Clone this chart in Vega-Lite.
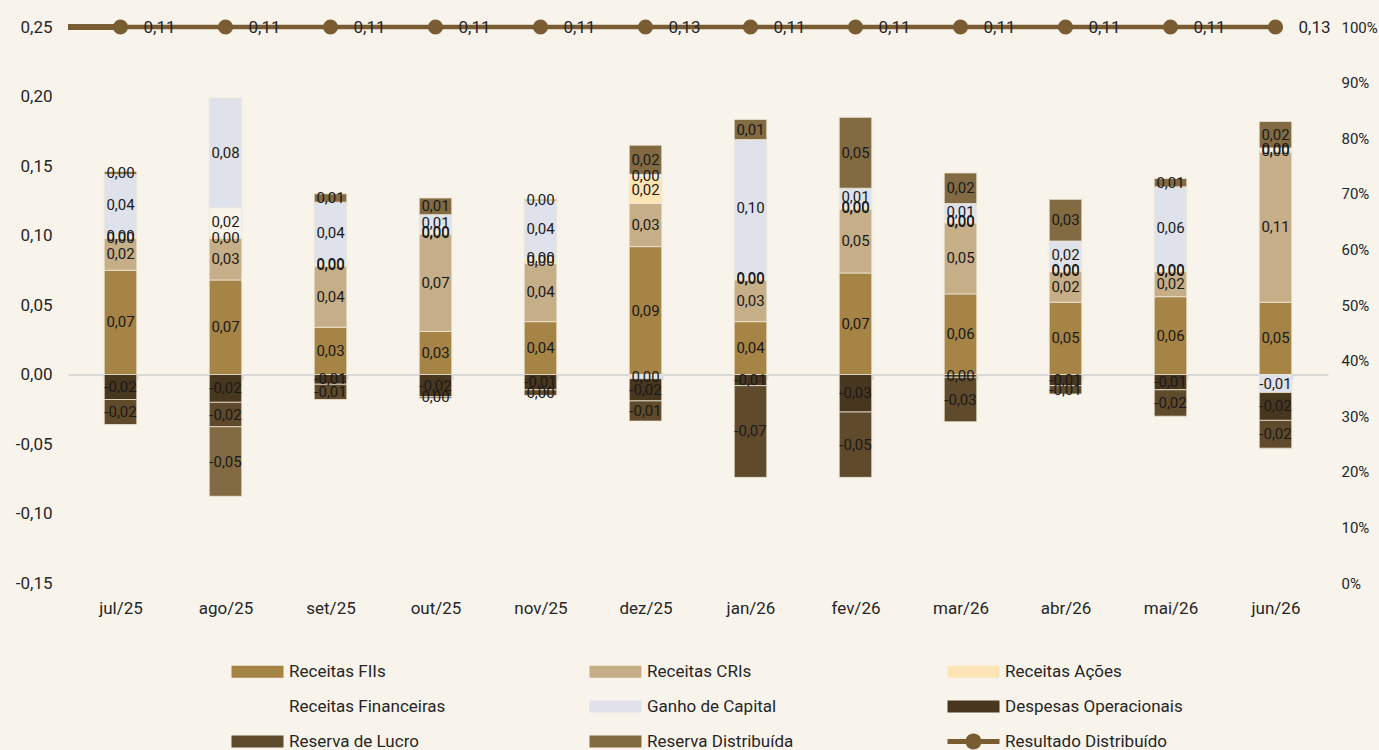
{
  "$schema": "https://vega.github.io/schema/vega-lite/v6.json",
  "width": 1260,
  "height": 556,
  "autosize": "none",
  "padding": {"left": 68, "top": 27, "right": 51, "bottom": 167},
  "background": "#f8f4ec",
  "config": {
    "view": {"stroke": null},
    "font": "Roboto",
    "locale": {"number": {"decimal": ",", "thousands": ".", "grouping": [3], "currency": ["R$ ", ""], "minus": "-"}},
    "axis": {"labelFont": "Roboto", "labelFontSize": 17, "labelColor": "#262626", "grid": false, "title": null}
  },
  "datasets": {
    "barras": [
      {"mes": "jul/25", "serie": "Receitas FIIs", "ord": 1, "valor": 0.075},
      {"mes": "jul/25", "serie": "Receitas CRIs", "ord": 2, "valor": 0.023},
      {"mes": "jul/25", "serie": "Receitas Ações", "ord": 3, "valor": 0.001},
      {"mes": "jul/25", "serie": "Receitas Financeiras", "ord": 4, "valor": 0.001},
      {"mes": "jul/25", "serie": "Ganho de Capital", "ord": 5, "valor": 0.044},
      {"mes": "jul/25", "serie": "Despesas Operacionais", "ord": 6, "valor": -0.018},
      {"mes": "jul/25", "serie": "Reserva de Lucro", "ord": 7, "valor": -0.018},
      {"mes": "jul/25", "serie": "Reserva Distribuída", "ord": 8, "valor": 0.002},
      {"mes": "ago/25", "serie": "Receitas FIIs", "ord": 1, "valor": 0.068},
      {"mes": "ago/25", "serie": "Receitas CRIs", "ord": 2, "valor": 0.030},
      {"mes": "ago/25", "serie": "Receitas Ações", "ord": 3, "valor": 0.001},
      {"mes": "ago/25", "serie": "Receitas Financeiras", "ord": 4, "valor": 0.021},
      {"mes": "ago/25", "serie": "Ganho de Capital", "ord": 5, "valor": 0.079},
      {"mes": "ago/25", "serie": "Despesas Operacionais", "ord": 6, "valor": -0.020},
      {"mes": "ago/25", "serie": "Reserva de Lucro", "ord": 7, "valor": -0.0176},
      {"mes": "ago/25", "serie": "Reserva Distribuída", "ord": 8, "valor": -0.050},
      {"mes": "set/25", "serie": "Receitas FIIs", "ord": 1, "valor": 0.034},
      {"mes": "set/25", "serie": "Receitas CRIs", "ord": 2, "valor": 0.044},
      {"mes": "set/25", "serie": "Receitas Ações", "ord": 3, "valor": 0.001},
      {"mes": "set/25", "serie": "Receitas Financeiras", "ord": 4, "valor": 0.001},
      {"mes": "set/25", "serie": "Ganho de Capital", "ord": 5, "valor": 0.044},
      {"mes": "set/25", "serie": "Despesas Operacionais", "ord": 6, "valor": -0.007},
      {"mes": "set/25", "serie": "Reserva de Lucro", "ord": 7, "valor": -0.011},
      {"mes": "set/25", "serie": "Reserva Distribuída", "ord": 8, "valor": 0.006},
      {"mes": "out/25", "serie": "Receitas FIIs", "ord": 1, "valor": 0.031},
      {"mes": "out/25", "serie": "Receitas CRIs", "ord": 2, "valor": 0.070},
      {"mes": "out/25", "serie": "Receitas Ações", "ord": 3, "valor": 0.001},
      {"mes": "out/25", "serie": "Receitas Financeiras", "ord": 4, "valor": 0.001},
      {"mes": "out/25", "serie": "Ganho de Capital", "ord": 5, "valor": 0.012},
      {"mes": "out/25", "serie": "Despesas Operacionais", "ord": 6, "valor": -0.016},
      {"mes": "out/25", "serie": "Reserva de Lucro", "ord": 7, "valor": -0.001},
      {"mes": "out/25", "serie": "Reserva Distribuída", "ord": 8, "valor": 0.012},
      {"mes": "nov/25", "serie": "Receitas FIIs", "ord": 1, "valor": 0.038},
      {"mes": "nov/25", "serie": "Receitas CRIs", "ord": 2, "valor": 0.042},
      {"mes": "nov/25", "serie": "Receitas Ações", "ord": 3, "valor": 0.003},
      {"mes": "nov/25", "serie": "Receitas Financeiras", "ord": 4, "valor": 0.001},
      {"mes": "nov/25", "serie": "Ganho de Capital", "ord": 5, "valor": 0.041},
      {"mes": "nov/25", "serie": "Despesas Operacionais", "ord": 6, "valor": -0.011},
      {"mes": "nov/25", "serie": "Reserva de Lucro", "ord": 7, "valor": -0.004},
      {"mes": "nov/25", "serie": "Reserva Distribuída", "ord": 8, "valor": 0.001},
      {"mes": "dez/25", "serie": "Receitas FIIs", "ord": 1, "valor": 0.092},
      {"mes": "dez/25", "serie": "Receitas CRIs", "ord": 2, "valor": 0.031},
      {"mes": "dez/25", "serie": "Receitas Ações", "ord": 3, "valor": 0.019},
      {"mes": "dez/25", "serie": "Receitas Financeiras", "ord": 4, "valor": 0.002},
      {"mes": "dez/25", "serie": "Ganho de Capital", "ord": 5, "valor": -0.003},
      {"mes": "dez/25", "serie": "Despesas Operacionais", "ord": 6, "valor": -0.016},
      {"mes": "dez/25", "serie": "Reserva de Lucro", "ord": 7, "valor": -0.0145},
      {"mes": "dez/25", "serie": "Reserva Distribuída", "ord": 8, "valor": 0.021},
      {"mes": "jan/26", "serie": "Receitas FIIs", "ord": 1, "valor": 0.038},
      {"mes": "jan/26", "serie": "Receitas CRIs", "ord": 2, "valor": 0.030},
      {"mes": "jan/26", "serie": "Receitas Ações", "ord": 3, "valor": 0.001},
      {"mes": "jan/26", "serie": "Receitas Financeiras", "ord": 4, "valor": 0.001},
      {"mes": "jan/26", "serie": "Ganho de Capital", "ord": 5, "valor": 0.099},
      {"mes": "jan/26", "serie": "Despesas Operacionais", "ord": 6, "valor": -0.008},
      {"mes": "jan/26", "serie": "Reserva de Lucro", "ord": 7, "valor": -0.066},
      {"mes": "jan/26", "serie": "Reserva Distribuída", "ord": 8, "valor": 0.0145},
      {"mes": "fev/26", "serie": "Receitas FIIs", "ord": 1, "valor": 0.073},
      {"mes": "fev/26", "serie": "Receitas CRIs", "ord": 2, "valor": 0.046},
      {"mes": "fev/26", "serie": "Receitas Ações", "ord": 3, "valor": 0.001},
      {"mes": "fev/26", "serie": "Receitas Financeiras", "ord": 4, "valor": 0.001},
      {"mes": "fev/26", "serie": "Ganho de Capital", "ord": 5, "valor": 0.013},
      {"mes": "fev/26", "serie": "Despesas Operacionais", "ord": 6, "valor": -0.027},
      {"mes": "fev/26", "serie": "Reserva de Lucro", "ord": 7, "valor": -0.047},
      {"mes": "fev/26", "serie": "Reserva Distribuída", "ord": 8, "valor": 0.051},
      {"mes": "mar/26", "serie": "Receitas FIIs", "ord": 1, "valor": 0.058},
      {"mes": "mar/26", "serie": "Receitas CRIs", "ord": 2, "valor": 0.051},
      {"mes": "mar/26", "serie": "Receitas Ações", "ord": 3, "valor": 0.001},
      {"mes": "mar/26", "serie": "Receitas Financeiras", "ord": 4, "valor": 0.001},
      {"mes": "mar/26", "serie": "Ganho de Capital", "ord": 5, "valor": 0.012},
      {"mes": "mar/26", "serie": "Despesas Operacionais", "ord": 6, "valor": -0.002},
      {"mes": "mar/26", "serie": "Reserva de Lucro", "ord": 7, "valor": -0.032},
      {"mes": "mar/26", "serie": "Reserva Distribuída", "ord": 8, "valor": 0.022},
      {"mes": "abr/26", "serie": "Receitas FIIs", "ord": 1, "valor": 0.052},
      {"mes": "abr/26", "serie": "Receitas CRIs", "ord": 2, "valor": 0.022},
      {"mes": "abr/26", "serie": "Receitas Ações", "ord": 3, "valor": 0.001},
      {"mes": "abr/26", "serie": "Receitas Financeiras", "ord": 4, "valor": 0.001},
      {"mes": "abr/26", "serie": "Ganho de Capital", "ord": 5, "valor": 0.020},
      {"mes": "abr/26", "serie": "Despesas Operacionais", "ord": 6, "valor": -0.008},
      {"mes": "abr/26", "serie": "Reserva de Lucro", "ord": 7, "valor": -0.006},
      {"mes": "abr/26", "serie": "Reserva Distribuída", "ord": 8, "valor": 0.030},
      {"mes": "mai/26", "serie": "Receitas FIIs", "ord": 1, "valor": 0.056},
      {"mes": "mai/26", "serie": "Receitas CRIs", "ord": 2, "valor": 0.018},
      {"mes": "mai/26", "serie": "Receitas Ações", "ord": 3, "valor": 0.001},
      {"mes": "mai/26", "serie": "Receitas Financeiras", "ord": 4, "valor": 0.001},
      {"mes": "mai/26", "serie": "Ganho de Capital", "ord": 5, "valor": 0.059},
      {"mes": "mai/26", "serie": "Despesas Operacionais", "ord": 6, "valor": -0.011},
      {"mes": "mai/26", "serie": "Reserva de Lucro", "ord": 7, "valor": -0.019},
      {"mes": "mai/26", "serie": "Reserva Distribuída", "ord": 8, "valor": 0.006},
      {"mes": "jun/26", "serie": "Receitas FIIs", "ord": 1, "valor": 0.052},
      {"mes": "jun/26", "serie": "Receitas CRIs", "ord": 2, "valor": 0.108},
      {"mes": "jun/26", "serie": "Receitas Ações", "ord": 3, "valor": 0.001},
      {"mes": "jun/26", "serie": "Receitas Financeiras", "ord": 4, "valor": 0.002},
      {"mes": "jun/26", "serie": "Ganho de Capital", "ord": 5, "valor": -0.013},
      {"mes": "jun/26", "serie": "Despesas Operacionais", "ord": 6, "valor": -0.020},
      {"mes": "jun/26", "serie": "Reserva de Lucro", "ord": 7, "valor": -0.020},
      {"mes": "jun/26", "serie": "Reserva Distribuída", "ord": 8, "valor": 0.019}
    ],
    "linha": [
      {"mes": "jul/25", "resultado": 0.11},
      {"mes": "ago/25", "resultado": 0.11},
      {"mes": "set/25", "resultado": 0.11},
      {"mes": "out/25", "resultado": 0.11},
      {"mes": "nov/25", "resultado": 0.11},
      {"mes": "dez/25", "resultado": 0.13},
      {"mes": "jan/26", "resultado": 0.11},
      {"mes": "fev/26", "resultado": 0.11},
      {"mes": "mar/26", "resultado": 0.11},
      {"mes": "abr/26", "resultado": 0.11},
      {"mes": "mai/26", "resultado": 0.11},
      {"mes": "jun/26", "resultado": 0.13}
    ]
  },
  "encoding": {
    "x": {
      "field": "mes",
      "type": "nominal",
      "sort": ["jul/25", "ago/25", "set/25", "out/25", "nov/25", "dez/25", "jan/26", "fev/26", "mar/26", "abr/26", "mai/26", "jun/26"],
      "scale": {"paddingInner": 0.69, "paddingOuter": 0.345},
      "axis": {
        "orient": "bottom",
        "offset": -208.5,
        "tickBand": "extent",
        "domainColor": "#d9d9d9",
        "domainWidth": 2,
        "tickColor": "#d9d9d9",
        "tickWidth": 2,
        "tickSize": 5,
        "labelPadding": 221,
        "labelAngle": 0,
        "title": null
      }
    }
  },
  "layer": [
    {
      "data": {"name": "barras"},
      "transform": [
        {"stack": "valor", "groupby": ["mes"], "sort": [{"field": "ord", "order": "ascending"}], "as": ["y0", "y1"], "offset": "zero"},
        {"calculate": "(datum.y0 + datum.y1) / 2", "as": "ymid"}
      ],
      "layer": [
        {
          "mark": {"type": "bar", "stroke": "#efe7d6", "strokeWidth": 0.8},
          "encoding": {
            "y": {
              "field": "y0",
              "type": "quantitative",
              "scale": {"domain": [-0.15, 0.25], "nice": false, "zero": false},
              "axis": {"orient": "left", "values": [-0.15, -0.1, -0.05, 0, 0.05, 0.1, 0.15, 0.2, 0.25], "format": ".2f", "domain": false, "ticks": false, "labelPadding": 16, "title": null}
            },
            "y2": {"field": "y1"},
            "color": {
              "field": "serie",
              "type": "nominal",
              "scale": {
                "domain": ["Receitas FIIs", "Receitas CRIs", "Receitas Ações", "Receitas Financeiras", "Ganho de Capital", "Despesas Operacionais", "Reserva de Lucro", "Reserva Distribuída", "Resultado Distribuído"],
                "range": ["#a68446", "#c6ae88", "#fde4b5", "#f8f4ec", "#dfe2ea", "#48371f", "#5f4a2b", "#826b43", "#7a5c33"]
              },
              "legend": {
                "orient": "none",
                "legendX": 161,
                "legendY": 636,
                "direction": "horizontal",
                "columns": 3,
                "gridAlign": "all",
                "columnPadding": 120,
                "rowPadding": 17,
                "symbolSize": 144,
                "symbolStrokeWidth": 0,
                "symbolOpacity": 1,
                "symbolType": {"expr": "datum.value === 'Resultado Distribuído' ? 'M-1,-0.4H7.667V0.4H-1Z M2,0A1.333,1.333 0 1,1 4.667,0A1.333,1.333 0 1,1 2,0Z' : 'M-1,-1H7.667V1H-1Z'"},
                "labelFont": "Roboto",
                "labelFontSize": 17,
                "labelColor": "#262626",
                "labelOffset": 43,
                "labelLimit": 300,
                "title": null
              }
            }
          }
        },
        {
          "mark": {"type": "text", "fontSize": 15, "color": "#1a1a1a", "baseline": "middle", "font": "Roboto"},
          "encoding": {
            "y": {"field": "ymid", "type": "quantitative"},
            "text": {"field": "valor", "type": "quantitative", "format": ".2f"}
          }
        }
      ]
    },
    {
      "data": {"name": "linha"},
      "encoding": {
        "y": {
          "field": "resultado",
          "type": "quantitative",
          "scale": {"domain": [0, 0.1], "clamp": true, "nice": false, "zero": false},
          "axis": {"orient": "right", "values": [0, 0.01, 0.02, 0.03, 0.04, 0.05, 0.06, 0.07, 0.08, 0.09, 0.1], "labelExpr": "format(datum.value * 10, '.0%')", "domain": false, "ticks": false, "labelPadding": 13, "labelFontSize": 15, "title": null}
        }
      },
      "layer": [
        {
          "mark": {"type": "rule", "color": "#7a5c33", "strokeWidth": 4.5},
          "encoding": {
            "x": {"datum": "jul/25", "bandPosition": -1.11},
            "x2": {"datum": "jul/25", "bandPosition": 0.5}
          }
        },
        {
          "mark": {"type": "line", "color": "#7a5c33", "strokeWidth": 4.5, "point": {"filled": true, "size": 230, "color": "#7a5c33", "opacity": 1}}
        },
        {
          "mark": {"type": "text", "align": "left", "dx": 23, "dy": 1, "fontSize": 17, "color": "#262626", "baseline": "middle", "font": "Roboto"},
          "encoding": {"text": {"field": "resultado", "type": "quantitative", "format": ".2f"}}
        }
      ]
    }
  ],
  "resolve": {"scale": {"y": "independent"}}
}
